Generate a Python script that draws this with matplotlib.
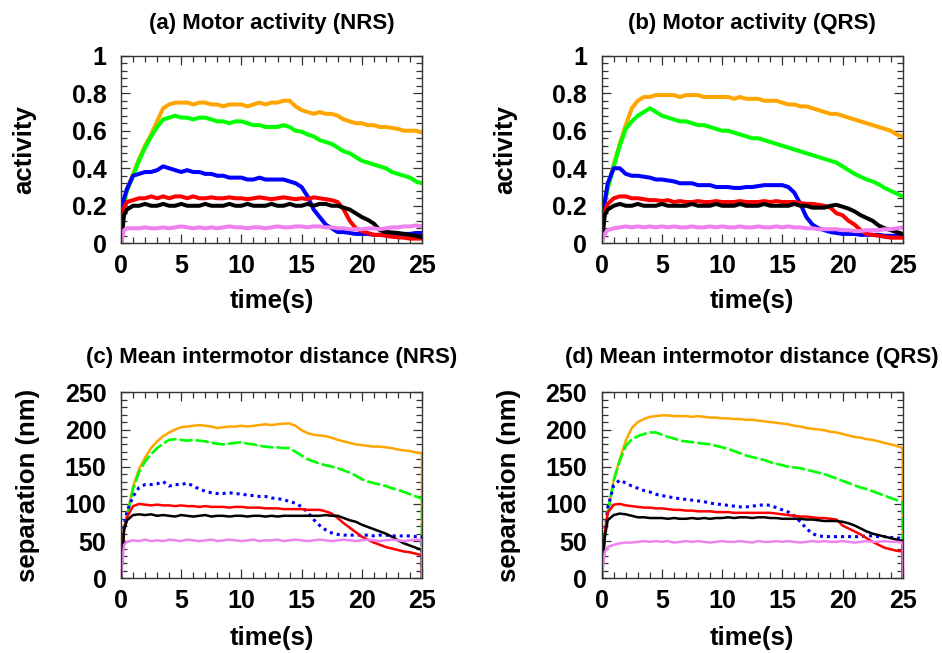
import matplotlib
matplotlib.use("Agg")
import matplotlib.pyplot as plt
from matplotlib.ticker import MultipleLocator, FixedLocator, FixedFormatter

plt.rcParams['font.family'] = ['Liberation Sans', 'DejaVu Sans']
plt.rcParams['font.weight'] = 'bold'

# time samples (s)
time_s = [0, 0.25, 0.5, 1, 1.5, 2, 2.5, 3, 3.5, 4,
          4.5, 5, 5.5, 6, 6.5, 7, 7.5, 8, 8.5, 9,
          9.5, 10, 10.5, 11, 11.5, 12, 12.5, 13, 13.5, 14,
          14.5, 15, 15.5, 16, 16.5, 17, 17.5, 18, 18.5, 19,
          19.5, 20, 20.5, 21, 21.5, 22, 22.5, 23, 23.5, 24,
          24.5, 25]
# separation traces close with a drop to zero at the last sample
time_sep = time_s + [25]

series_colors = {"orange": "#FFA500", "green": "#00FF00", "blue": "#0000FF",
                 "red": "#FF0000", "black": "#000000", "violet": "#EE82EE"}

# ---- (a) motor activity, NRS ----
act_nrs_orange = [0, 0.22, 0.29, 0.37, 0.45, 0.52, 0.58, 0.65, 0.72, 0.74,
                  0.75, 0.75, 0.75, 0.74, 0.75, 0.75, 0.74, 0.74, 0.73, 0.74,
                  0.74, 0.74, 0.73, 0.74, 0.75, 0.74, 0.75, 0.75, 0.76, 0.76,
                  0.73, 0.71, 0.70, 0.69, 0.70, 0.69, 0.69, 0.68, 0.66, 0.65,
                  0.64, 0.64, 0.63, 0.63, 0.62, 0.62, 0.615, 0.61, 0.60, 0.60,
                  0.60, 0.59]
act_nrs_green = [0, 0.22, 0.28, 0.36, 0.44, 0.51, 0.57, 0.62, 0.66, 0.67,
                 0.68, 0.67, 0.67, 0.66, 0.67, 0.67, 0.66, 0.65, 0.65, 0.64,
                 0.65, 0.65, 0.64, 0.63, 0.63, 0.62, 0.62, 0.62, 0.63, 0.62,
                 0.60, 0.595, 0.58, 0.57, 0.55, 0.54, 0.53, 0.51, 0.49, 0.48,
                 0.46, 0.44, 0.43, 0.42, 0.41, 0.40, 0.38, 0.37, 0.36, 0.35,
                 0.33, 0.32]
act_nrs_blue = [0, 0.24, 0.29, 0.36, 0.37, 0.38, 0.38, 0.39, 0.41, 0.40,
                0.39, 0.38, 0.39, 0.38, 0.38, 0.37, 0.37, 0.36, 0.36, 0.35,
                0.35, 0.35, 0.34, 0.34, 0.35, 0.34, 0.34, 0.34, 0.34, 0.33,
                0.32, 0.30, 0.25, 0.18, 0.14, 0.10, 0.08, 0.06, 0.06, 0.055,
                0.05, 0.05, 0.05, 0.045, 0.045, 0.045, 0.045, 0.05, 0.05, 0.05,
                0.055, 0.055]
act_nrs_red = [0, 0.19, 0.22, 0.23, 0.24, 0.24, 0.25, 0.24, 0.25, 0.24,
               0.25, 0.25, 0.24, 0.25, 0.24, 0.24, 0.245, 0.24, 0.24, 0.245,
               0.24, 0.24, 0.235, 0.24, 0.245, 0.24, 0.235, 0.24, 0.245, 0.24,
               0.235, 0.24, 0.235, 0.245, 0.24, 0.235, 0.23, 0.22, 0.18, 0.12,
               0.08, 0.065, 0.055, 0.045, 0.045, 0.04, 0.035, 0.032, 0.03, 0.025,
               0.025, 0.025]
act_nrs_black = [0, 0.15, 0.18, 0.20, 0.20, 0.21, 0.20, 0.20, 0.21, 0.20,
                 0.20, 0.21, 0.20, 0.20, 0.20, 0.21, 0.20, 0.20, 0.20, 0.21,
                 0.20, 0.20, 0.21, 0.20, 0.20, 0.20, 0.21, 0.20, 0.20, 0.21,
                 0.20, 0.20, 0.21, 0.20, 0.21, 0.21, 0.20, 0.20, 0.19, 0.18,
                 0.16, 0.14, 0.125, 0.105, 0.07, 0.06, 0.058, 0.055, 0.05, 0.045,
                 0.04, 0.032]
act_nrs_violet = [0, 0.07, 0.08, 0.08, 0.08, 0.085, 0.08, 0.08, 0.085, 0.08,
                  0.085, 0.09, 0.085, 0.08, 0.085, 0.08, 0.085, 0.08, 0.085, 0.09,
                  0.085, 0.085, 0.08, 0.085, 0.085, 0.08, 0.085, 0.09, 0.085, 0.085,
                  0.09, 0.09, 0.085, 0.09, 0.09, 0.085, 0.085, 0.08, 0.08, 0.075,
                  0.075, 0.075, 0.08, 0.08, 0.075, 0.08, 0.085, 0.085, 0.09, 0.09,
                  0.095, 0.09]

# ---- (b) motor activity, QRS ----
act_qrs_orange = [0, 0.22, 0.30, 0.42, 0.53, 0.63, 0.72, 0.76, 0.78, 0.78,
                  0.79, 0.79, 0.79, 0.79, 0.78, 0.79, 0.79, 0.79, 0.78, 0.78,
                  0.78, 0.78, 0.78, 0.77, 0.78, 0.77, 0.77, 0.77, 0.76, 0.76,
                  0.76, 0.75, 0.74, 0.74, 0.73, 0.73, 0.72, 0.71, 0.70, 0.69,
                  0.69, 0.68, 0.67, 0.66, 0.65, 0.64, 0.63, 0.62, 0.61, 0.60,
                  0.58, 0.57]
act_qrs_green = [0, 0.22, 0.29, 0.41, 0.52, 0.61, 0.65, 0.68, 0.70, 0.72,
                 0.70, 0.68, 0.67, 0.66, 0.65, 0.65, 0.64, 0.63, 0.63, 0.62,
                 0.61, 0.60, 0.60, 0.59, 0.58, 0.57, 0.56, 0.56, 0.55, 0.54,
                 0.53, 0.52, 0.51, 0.50, 0.49, 0.48, 0.47, 0.46, 0.45, 0.44,
                 0.43, 0.41, 0.39, 0.37, 0.355, 0.34, 0.33, 0.315, 0.295, 0.28,
                 0.265, 0.25]
act_qrs_blue = [0, 0.22, 0.32, 0.40, 0.40, 0.37, 0.36, 0.36, 0.355, 0.35,
                0.34, 0.34, 0.335, 0.33, 0.32, 0.32, 0.32, 0.31, 0.31, 0.31,
                0.30, 0.30, 0.30, 0.295, 0.295, 0.30, 0.30, 0.305, 0.31, 0.31,
                0.31, 0.31, 0.30, 0.27, 0.21, 0.14, 0.10, 0.08, 0.07, 0.06,
                0.055, 0.05, 0.05, 0.05, 0.045, 0.045, 0.045, 0.045, 0.04, 0.04,
                0.04, 0.04]
act_qrs_red = [0, 0.17, 0.21, 0.24, 0.25, 0.25, 0.24, 0.24, 0.235, 0.23,
               0.23, 0.225, 0.23, 0.22, 0.225, 0.22, 0.22, 0.225, 0.22, 0.22,
               0.225, 0.22, 0.22, 0.22, 0.225, 0.22, 0.22, 0.22, 0.225, 0.22,
               0.225, 0.22, 0.22, 0.22, 0.215, 0.21, 0.21, 0.205, 0.20, 0.19,
               0.16, 0.15, 0.12, 0.10, 0.07, 0.05, 0.045, 0.04, 0.035, 0.03,
               0.03, 0.03]
act_qrs_black = [0, 0.15, 0.18, 0.20, 0.21, 0.20, 0.20, 0.21, 0.20, 0.20,
                 0.20, 0.21, 0.20, 0.20, 0.20, 0.20, 0.21, 0.20, 0.20, 0.20,
                 0.21, 0.20, 0.20, 0.20, 0.21, 0.20, 0.20, 0.20, 0.21, 0.20,
                 0.20, 0.20, 0.20, 0.21, 0.20, 0.20, 0.19, 0.19, 0.19, 0.20,
                 0.205, 0.195, 0.185, 0.17, 0.15, 0.135, 0.12, 0.095, 0.08, 0.07,
                 0.06, 0.05]
act_qrs_violet = [0, 0.05, 0.07, 0.08, 0.085, 0.09, 0.085, 0.09, 0.085, 0.09,
                  0.085, 0.09, 0.085, 0.09, 0.085, 0.085, 0.09, 0.085, 0.085, 0.09,
                  0.085, 0.09, 0.085, 0.085, 0.09, 0.085, 0.085, 0.09, 0.085, 0.085,
                  0.09, 0.085, 0.09, 0.085, 0.085, 0.08, 0.08, 0.075, 0.075, 0.075,
                  0.075, 0.07, 0.07, 0.065, 0.065, 0.07, 0.07, 0.07, 0.075, 0.075,
                  0.08, 0.085]

# ---- (c) mean intermotor distance, NRS (nm) ----
sep_nrs_orange = [0, 68, 85, 123, 147, 162, 175, 184, 191, 196,
                  200, 203, 204, 205, 206, 205, 204, 202, 203, 204,
                  204, 205, 204, 205, 206, 207, 206, 207, 208, 208,
                  205, 199, 195, 193, 192, 191, 189, 186, 184, 182,
                  180, 179, 178, 177, 177, 176, 175, 173, 172, 171,
                  169, 168, 0]
sep_nrs_green = [0, 66, 83, 120, 143, 157, 167, 175, 181, 186,
                 187, 186, 185, 186, 185, 184, 182, 181, 180, 181,
                 182, 183, 181, 180, 178, 177, 176, 176, 175, 175,
                 170, 165, 160, 157, 154, 152, 150, 148, 145, 142,
                 138, 133, 130, 128, 126, 124, 121, 119, 116, 113,
                 110, 107, 0]
sep_nrs_blue = [0, 70, 90, 110, 122, 126, 126, 127, 130, 124,
                126, 126, 128, 124, 120, 117, 115, 114, 114, 115,
                114, 113, 112, 111, 110, 110, 108, 107, 106, 103,
                101, 96, 89, 79, 71, 65, 61, 59, 58, 58,
                58, 58, 58, 57, 58, 58, 57, 57, 57, 57,
                56, 56, 0]
sep_nrs_red = [0, 65, 82, 97, 100, 99, 98, 99, 98, 98,
               97, 98, 97, 97, 96, 97, 96, 96, 96, 95,
               96, 96, 95, 95, 95, 94, 94, 94, 93, 93,
               93, 93, 92, 92, 92, 90, 87, 81, 74, 68,
               62, 56, 52, 48, 45, 42, 40, 38, 36, 35,
               33, 31, 0]
sep_nrs_black = [0, 65, 78, 85, 86, 85, 86, 84, 85, 84,
                 83, 85, 84, 83, 84, 85, 83, 84, 84, 83,
                 84, 84, 83, 84, 84, 83, 84, 83, 84, 84,
                 84, 84, 84, 84, 84, 85, 84, 84, 81, 78,
                 76, 72, 69, 66, 63, 60, 56, 51, 47, 44,
                 41, 38, 0]
sep_nrs_violet = [0, 45, 49, 51, 50, 52, 50, 51, 50, 52,
                  51, 50, 52, 51, 50, 51, 52, 50, 51, 52,
                  51, 50, 51, 52, 50, 51, 51, 52, 50, 51,
                  52, 51, 50, 51, 52, 51, 50, 51, 52, 51,
                  50, 51, 52, 51, 50, 51, 52, 51, 50, 51,
                  52, 51, 0]

# ---- (d) mean intermotor distance, QRS (nm) ----
sep_qrs_orange = [0, 60, 88, 132, 160, 185, 202, 210, 214, 217,
                  218, 219, 219, 218, 218, 218, 217, 218, 217, 216,
                  216, 215, 215, 214, 214, 213, 213, 212, 211, 210,
                  209, 208, 207, 205, 204, 202, 201, 200, 199, 197,
                  196, 194, 192, 190, 189, 187, 186, 184, 182, 180,
                  178, 175, 0]
sep_qrs_green = [0, 55, 88, 132, 158, 178, 187, 191, 194, 196,
                 196, 193, 190, 188, 185, 184, 183, 182, 181, 180,
                 178, 176, 174, 171, 168, 165, 163, 161, 159, 156,
                 154, 152, 150, 149, 148, 146, 144, 142, 140, 137,
                 134, 131, 128, 125, 122, 120, 117, 114, 111, 108,
                 105, 102, 0]
sep_qrs_blue = [0, 60, 95, 125, 132, 128, 124, 121, 118, 116,
                113, 111, 110, 108, 107, 106, 105, 104, 103, 101,
                100, 99, 98, 97, 96, 96, 97, 98, 99, 98,
                95, 92, 89, 84, 76, 67, 60, 57, 56, 56,
                56, 56, 56, 56, 56, 57, 57, 56, 56, 55,
                54, 54, 0]
sep_qrs_red = [0, 60, 88, 99, 100, 98, 97, 96, 95, 95,
               94, 94, 93, 92, 92, 91, 91, 90, 90, 90,
               89, 89, 89, 88, 88, 88, 88, 88, 88, 88,
               87, 86, 85, 84, 83, 83, 82, 81, 81, 80,
               79, 71, 67, 63, 59, 54, 49, 45, 41, 39,
               37, 36, 0]
sep_qrs_black = [0, 55, 78, 85, 87, 86, 84, 82, 82, 81,
                 81, 81, 80, 81, 80, 80, 81, 80, 81, 80,
                 81, 81, 82, 81, 82, 82, 81, 82, 82, 81,
                 81, 80, 80, 80, 80, 79, 79, 78, 77, 77,
                 77, 76, 74, 71, 67, 63, 60, 58, 56, 54,
                 52, 50, 0]
sep_qrs_violet = [0, 35, 42, 45, 47, 48, 48, 49, 50, 49,
                  50, 49, 50, 48, 49, 50, 49, 50, 49, 48,
                  49, 50, 49, 49, 50, 49, 48, 50, 49, 49,
                  50, 49, 50, 49, 48, 49, 50, 49, 50, 49,
                  49, 50, 49, 48, 49, 50, 49, 49, 50, 49,
                  49, 48, 0]

titles = ["(a) Motor activity (NRS)", "(b) Motor activity (QRS)",
          "(c) Mean intermotor distance (NRS)", "(d) Mean intermotor distance (QRS)"]
xlabel_text = "time(s)"
ylabel_activity = "activity"
ylabel_separation = "separation (nm)"
x_ticks = [0, 5, 10, 15, 20, 25]
x_ticklabels = ["0", "5", "10", "15", "20", "25"]
activity_ticks = [0, 0.2, 0.4, 0.6, 0.8, 1.0]
activity_ticklabels = ["0", "0.2", "0.4", "0.6", "0.8", "1"]
separation_ticks = [0, 50, 100, 150, 200, 250]
separation_ticklabels = ["0", "50", "100", "150", "200", "250"]

panels = [
    dict(title=titles[0], time=time_s, kind="activity",
         data=[("orange", act_nrs_orange), ("green", act_nrs_green), ("blue", act_nrs_blue),
               ("red", act_nrs_red), ("black", act_nrs_black), ("violet", act_nrs_violet)]),
    dict(title=titles[1], time=time_s, kind="activity",
         data=[("orange", act_qrs_orange), ("green", act_qrs_green), ("blue", act_qrs_blue),
               ("red", act_qrs_red), ("black", act_qrs_black), ("violet", act_qrs_violet)]),
    dict(title=titles[2], time=time_sep, kind="separation",
         data=[("orange", sep_nrs_orange), ("green", sep_nrs_green), ("blue", sep_nrs_blue),
               ("red", sep_nrs_red), ("black", sep_nrs_black), ("violet", sep_nrs_violet)]),
    dict(title=titles[3], time=time_sep, kind="separation",
         data=[("orange", sep_qrs_orange), ("green", sep_qrs_green), ("blue", sep_qrs_blue),
               ("red", sep_qrs_red), ("black", sep_qrs_black), ("violet", sep_qrs_violet)]),
]

W, H = 942, 653
fig = plt.figure(figsize=(W / 100, H / 100), dpi=100)
fig.patch.set_facecolor("white")

# axes boxes in pixels: left, top, right, bottom
boxes = [(121, 55.7, 422, 243.3), (601.7, 55.7, 902.7, 243.3),
         (121, 392.3, 422, 578.3), (601.7, 392.3, 902.7, 578.3)]

for panel, (l, t, r, b) in zip(panels, boxes):
    ax = fig.add_axes([l / W, 1 - b / H, (r - l) / W, (b - t) / H])
    hpx = b - t
    act = panel["kind"] == "activity"
    for name, values in panel["data"]:
        style = dict(color=series_colors[name], lw=2.9 if act else 1.8,
                     solid_joinstyle="round")
        if not act and name == "blue":
            style.update(ls=(0, (1.0, 1.3)), lw=2.2)
        elif not act and name == "green":
            style.update(ls=(0, (5, 1.2)), lw=1.9)
        ax.plot(panel["time"], values, **style)

    ax.set_xlim(0, 25)
    ax.xaxis.set_major_locator(FixedLocator(x_ticks))
    ax.xaxis.set_major_formatter(FixedFormatter(x_ticklabels))
    ax.xaxis.set_minor_locator(MultipleLocator(1))
    if act:
        ax.set_ylim(0, 1)
        ax.yaxis.set_major_locator(FixedLocator(activity_ticks))
        ax.yaxis.set_major_formatter(FixedFormatter(activity_ticklabels))
        ax.yaxis.set_minor_locator(MultipleLocator(0.04))
        ax.set_ylabel(ylabel_activity, fontsize=18.5, fontweight="bold")
        ax.yaxis.set_label_coords(-0.28, 0.5)
        xlab_y = -0.242
        title_off = 27
    else:
        ax.set_ylim(0, 250)
        ax.yaxis.set_major_locator(FixedLocator(separation_ticks))
        ax.yaxis.set_major_formatter(FixedFormatter(separation_ticklabels))
        ax.yaxis.set_minor_locator(MultipleLocator(10))
        ax.set_ylabel(ylabel_separation, fontsize=18.5, fontweight="bold")
        ax.yaxis.set_label_coords(-0.268, 0.5)
        xlab_y = -0.256
        title_off = 29
    ax.set_xlabel(xlabel_text, fontsize=18.5, fontweight="bold")
    ax.xaxis.set_label_coords(0.5, xlab_y)
    ax.set_title(panel["title"], fontsize=16, fontweight="bold",
                 y=1 + title_off / hpx, pad=0)

    ax.tick_params(which="both", direction="in", top=True, right=True,
                   color="#333333", width=0.9)
    ax.tick_params(which="major", length=6.5, labelsize=18)
    ax.tick_params(which="minor", length=4.2)
    ax.tick_params(axis="x", which="major", pad=7.5)
    ax.tick_params(axis="y", which="major", pad=10.5)
    for lab in ax.get_xticklabels() + ax.get_yticklabels():
        lab.set_fontweight("bold")
    for sp in ax.spines.values():
        sp.set_color("#333333")
        sp.set_linewidth(1.0)

fig.savefig("out.png", dpi=100, facecolor="white")
